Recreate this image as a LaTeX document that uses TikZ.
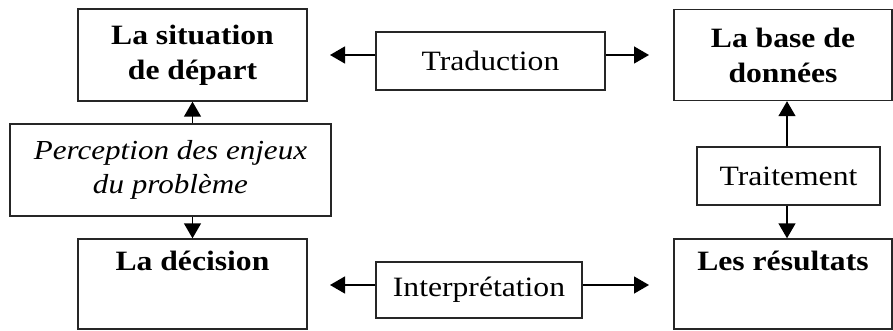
\documentclass[tikz,border=0pt]{standalone}
\usepackage{fontspec}
\setmainfont{Liberation Serif}[FakeStretch=1.13]
\usetikzlibrary{arrows.meta}
\begin{document}
\begin{tikzpicture}[x=1pt,y=-1pt,
  box/.style={draw=black!85,line width=1.4pt,inner sep=0pt,align=center,
    font=\fontsize{28}{34}\selectfont},
  arr/.style={line width=1.4pt,-{Triangle[length=15pt,width=17pt]}}]
\useasboundingbox (0,0) rectangle (893,331);
\node[box,minimum width=229pt,minimum height=92pt,font=\fontsize{28}{35}\selectfont\bfseries] (sit) at (192.5,55) {La situation\\de départ};
\node[box,minimum width=218pt,minimum height=91pt,font=\fontsize{28}{35}\selectfont\bfseries] (base) at (783,55) {La base de\\données};
\node[box,minimum width=229pt,minimum height=58pt] (trad) at (490.5,61) {Traduction};
\node[box,minimum width=321pt,minimum height=92pt,font=\fontsize{27.5}{34}\selectfont\itshape] (percep) at (170.5,170) {Perception des enjeux\\du problème};
\node[box,minimum width=183pt,minimum height=58pt] (trait) at (788.5,176) {Traitement};
\node[box,minimum width=229pt,minimum height=90pt,font=\fontsize{28}{35}\selectfont\bfseries] (dec) at (192.5,284) {La décision\\\strut};
\node[box,minimum width=218pt,minimum height=90pt,font=\fontsize{28}{35}\selectfont\bfseries] (res) at (783,284) {Les résultats\\\strut};
\node[box,minimum width=206pt,minimum height=56pt] (interp) at (479,290) {Interprétation};
\coordinate (tl) at (330,55);
\coordinate (tr) at (649,55);
\coordinate (il) at (330,285);
\coordinate (ir) at (649,285);
\draw[arr] ([yshift=6pt]trad.west) -- (tl);
\draw[arr] ([yshift=6pt]trad.east) -- (tr);
\draw[arr] ([yshift=5pt]interp.west) -- (il);
\draw[arr] ([yshift=5pt]interp.east) -- (ir);
\draw[arr] (percep.north -| sit.south) -- (sit.south);
\draw[arr] (percep.south -| dec.north) -- (dec.north);
\draw[arr] ([xshift=-1.5pt]trait.north) -- ([xshift=-1.5pt]trait.north |- base.south);
\draw[arr] ([xshift=-1.5pt]trait.south) -- ([xshift=-1.5pt]trait.south |- res.north);
\end{tikzpicture}
\end{document}
